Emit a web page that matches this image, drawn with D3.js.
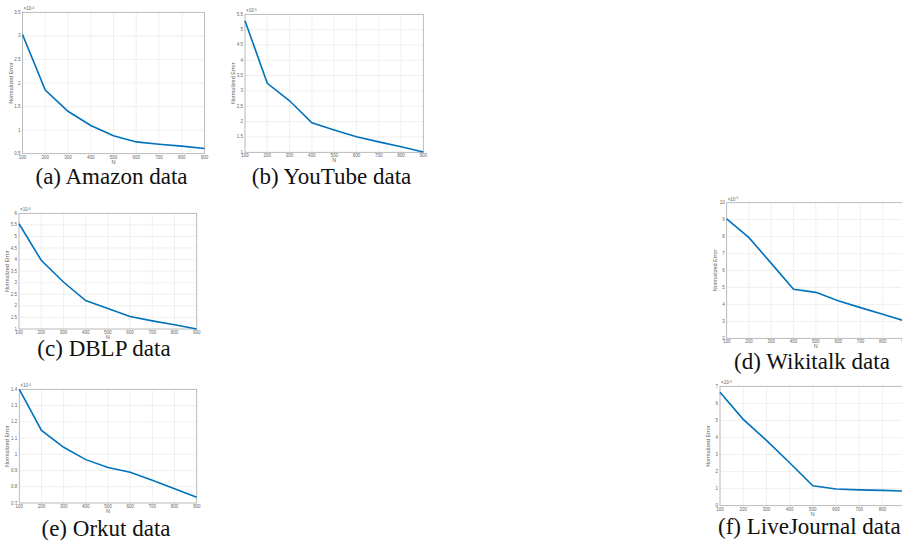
<!DOCTYPE html>
<html>
<head>
<meta charset="utf-8">
<title>Normalized error vs N</title>
<script src="https://d3js.org/d3.v7.min.js"></script>
<style>
  body { margin: 0; background: #fff; }
  .tick-label { font-family: "Liberation Sans", Arial, sans-serif; font-size: 4.5px; fill: #666; }
  .axis-title { font-family: "Liberation Sans", Arial, sans-serif; font-size: 5.5px; fill: #666; }
</style>
</head>
<body>
<div id="chart"></div>
<script>
// data
var nValues = [100, 200, 300, 400, 500, 600, 700, 800, 900];

var amazonErr      = [3.03, 1.85, 1.40, 1.10, 0.88, 0.75, 0.70, 0.66, 0.61];
var youtubeErr     = [5.29, 3.25, 2.68, 1.96, 1.73, 1.51, 1.34, 1.18, 1.01];
var dblpErr        = [5.55, 3.97, 3.03, 2.23, 1.89, 1.54, 1.35, 1.18, 1.00];
var wikitalkErr    = [9.04, 7.94, 6.42, 4.89, 4.71, 4.22, 3.81, 3.42, 3.02];
var orkutErr       = [1.40, 1.147, 1.043, 0.967, 0.918, 0.889, 0.84, 0.788, 0.735];
var livejournalErr = [6.65, 5.06, 3.83, 2.52, 1.17, 0.98, 0.93, 0.90, 0.85];

var amazonTicks      = [0.5, 1, 1.5, 2, 2.5, 3, 3.5];
var youtubeTicks     = [1, 1.5, 2, 2.5, 3, 3.5, 4, 4.5, 5, 5.5];
var dblpTicks        = [1, 1.5, 2, 2.5, 3, 3.5, 4, 4.5, 5, 5.5, 6];
var wikitalkTicks    = [2, 3, 4, 5, 6, 7, 8, 9, 10];
var orkutTicks       = [0.7, 0.8, 0.9, 1, 1.1, 1.2, 1.3, 1.4];
var livejournalTicks = [0, 1, 2, 3, 4, 5, 6, 7];

var captions = ["(a) Amazon data", "(b) YouTube data", "(c) DBLP data",
                "(d) Wikitalk data", "(e) Orkut data", "(f) LiveJournal data"];
var exponents = ["-4", "-5", "-4", "-5", "-4", "-4"];

// panel placement on the page
var panels = [
  { values: amazonErr,      ticks: amazonTicks,      x0: 22.5, x1: 204.5, y0: 12.3,  y1: 153.7, cx: 111.5, cy: 184, anchor: "middle" },
  { values: youtubeErr,     ticks: youtubeTicks,     x0: 245,  x1: 423.3, y0: 14.3,  y1: 152.3, cx: 331.5, cy: 184, anchor: "middle" },
  { values: dblpErr,        ticks: dblpTicks,        x0: 19,   x1: 196.7, y0: 213.3, y1: 329,   cx: 104,   cy: 356, anchor: "middle" },
  { values: wikitalkErr,    ticks: wikitalkTicks,    x0: 726.7,x1: 905,   y0: 202.7, y1: 338.3, cx: 812,   cy: 369, anchor: "middle" },
  { values: orkutErr,       ticks: orkutTicks,       x0: 19.3, x1: 196.7, y0: 389.3, y1: 503,   cx: 106,   cy: 536, anchor: "middle" },
  { values: livejournalErr, ticks: livejournalTicks, x0: 720,  x1: 905.7, y0: 386.3, y1: 505.7, cx: 718,   cy: 534, anchor: "start" }
];

var width = 902, height = 540;

var svg = d3.select("#chart").append("svg")
  .attr("width", width)
  .attr("height", height);

svg.append("rect").attr("width", width).attr("height", height).attr("fill", "#fff");

panels.forEach(function(p, i) {
  var x = d3.scaleLinear().domain([100, 900]).range([p.x0, p.x1]);
  var y = d3.scaleLinear().domain(d3.extent(p.ticks)).range([p.y1, p.y0]);
  var g = svg.append("g");

  // grid
  g.selectAll(".vgrid").data(nValues).enter().append("line")
    .attr("x1", function(d) { return x(d); }).attr("x2", function(d) { return x(d); })
    .attr("y1", p.y0).attr("y2", p.y1)
    .attr("stroke", "#e6e6e6").attr("stroke-width", 0.6);
  g.selectAll(".hgrid").data(p.ticks).enter().append("line")
    .attr("x1", p.x0).attr("x2", p.x1)
    .attr("y1", function(d) { return y(d); }).attr("y2", function(d) { return y(d); })
    .attr("stroke", "#e6e6e6").attr("stroke-width", 0.6);

  // box
  g.append("rect")
    .attr("x", p.x0).attr("y", p.y0)
    .attr("width", p.x1 - p.x0).attr("height", p.y1 - p.y0)
    .attr("fill", "none").attr("stroke", "#a8a8a8").attr("stroke-width", 0.7);

  // tick labels
  g.selectAll(".xl").data(nValues).enter().append("text")
    .attr("class", "tick-label")
    .attr("x", function(d) { return x(d); })
    .attr("y", p.y1 + 5)
    .attr("text-anchor", "middle")
    .text(function(d) { return d; });
  g.selectAll(".yl").data(p.ticks).enter().append("text")
    .attr("class", "tick-label")
    .attr("x", p.x0 - 2)
    .attr("y", function(d) { return y(d) + 1.5; })
    .attr("text-anchor", "end")
    .text(function(d) { return d3.format("~g")(d); });

  // exponent
  var ex = g.append("text").attr("class", "tick-label")
    .attr("x", p.x0 + 1).attr("y", p.y0 - 2);
  ex.append("tspan").text("\u00d710");
  ex.append("tspan").attr("dy", -1.5).attr("font-size", "3.5px").text(exponents[i]);

  // axis titles
  g.append("text").attr("class", "axis-title")
    .attr("x", (p.x0 + p.x1) / 2).attr("y", p.y1 + 10)
    .attr("text-anchor", "middle").text("N");
  g.append("text").attr("class", "axis-title")
    .attr("transform", "translate(" + (p.x0 - 10) + "," + ((p.y0 + p.y1) / 2) + ") rotate(-90)")
    .attr("text-anchor", "middle").text("Normalized Error");

  // line
  var line = d3.line()
    .x(function(d, j) { return x(nValues[j]); })
    .y(function(d) { return y(d); });
  g.append("path")
    .datum(p.values)
    .attr("d", line)
    .attr("fill", "none")
    .attr("stroke", "#0072BD")
    .attr("stroke-width", 1.6);

  // caption
  svg.append("text")
    .attr("font-family", "'Liberation Serif', 'Times New Roman', Times, 'DejaVu Serif', serif")
    .attr("font-size", "23px")
    .attr("fill", "#111")
    .attr("x", p.cx).attr("y", p.cy)
    .attr("text-anchor", p.anchor)
    .text(captions[i]);
});
</script>
</body>
</html>
